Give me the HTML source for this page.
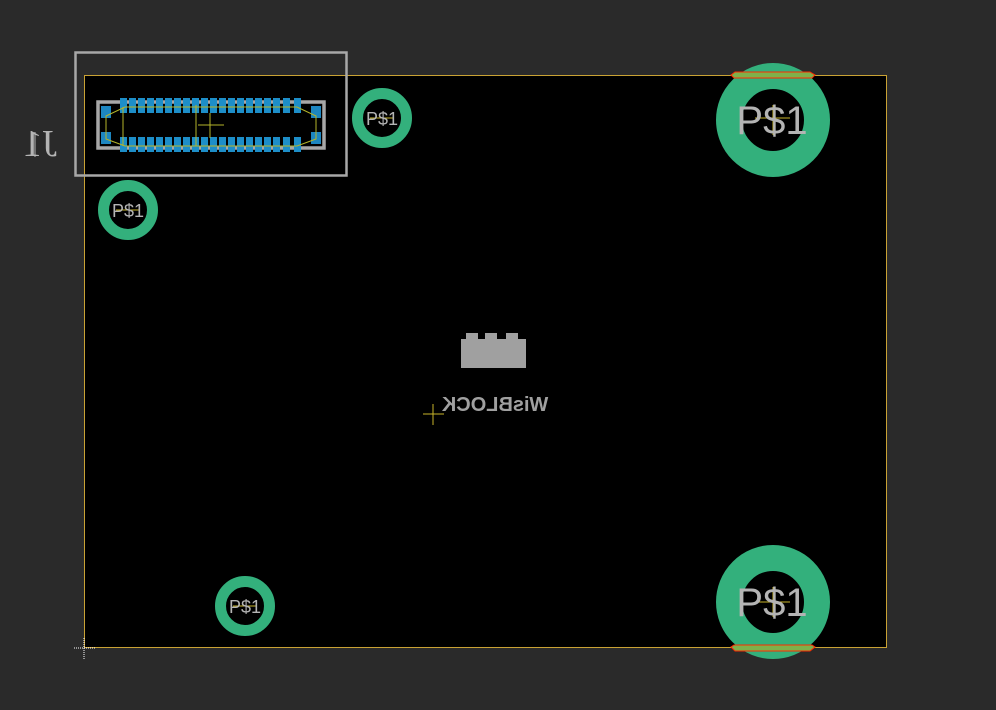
<!DOCTYPE html>
<html><head><meta charset="utf-8"><style>
html,body{margin:0;padding:0;background:#2a2a2a;width:996px;height:710px;overflow:hidden}
svg{display:block}
text{font-family:"Liberation Sans",sans-serif}
</style></head><body>
<svg width="996" height="710" viewBox="0 0 996 710" xmlns="http://www.w3.org/2000/svg">
<rect width="996" height="710" fill="#2a2a2a"/>
<rect x="84.5" y="75.5" width="802" height="572" fill="#000" stroke="#c9a234" stroke-width="1"/>
<line x1="74" y1="648" x2="96" y2="648" stroke="#fff" stroke-width="1" stroke-dasharray="1,1"/>
<line x1="84" y1="638" x2="84" y2="660" stroke="#fff" stroke-width="1" stroke-dasharray="1,1"/>

<g fill="none" stroke="#33b07c">
<circle cx="382" cy="118" r="24.5" stroke-width="11"/>
<circle cx="128" cy="210" r="24.5" stroke-width="11"/>
<circle cx="245" cy="606" r="24.5" stroke-width="11"/>
<circle cx="773" cy="120" r="44" stroke-width="26"/>
<circle cx="773" cy="602" r="44" stroke-width="26"/>
</g>
<g stroke="#ff2a00" stroke-width="1" fill="#7fb04a">
<polygon points="731,75 735,72 810,72 815,75 812,78 734,78"/>
<polygon points="731,647 735,651 810,651 815,647 812,645 734,645"/>
</g>
<g stroke="#c8b52a" stroke-width="1">
<line x1="755" y1="118" x2="790" y2="118"/><line x1="773" y1="105" x2="773" y2="135"/>
<line x1="755" y1="602" x2="790" y2="602"/><line x1="773" y1="587" x2="773" y2="617"/>
<line x1="370" y1="118" x2="394" y2="118"/>
<line x1="116" y1="210" x2="140" y2="210"/>
<line x1="233" y1="606" x2="257" y2="606"/>
<line x1="423" y1="414" x2="444" y2="414"/><line x1="433" y1="404" x2="433" y2="425"/>
</g>
<g fill="#b4b4b4" font-size="18" text-anchor="middle">
<text x="382" y="125">P$1</text>
<text x="128" y="217">P$1</text>
<text x="245" y="613">P$1</text>
</g>
<g fill="#b4b4b4" font-size="40" text-anchor="middle">
<text x="772" y="134">P$1</text>
<text x="772" y="616">P$1</text>
</g>

<rect x="75.5" y="52.5" width="271" height="123" fill="none" stroke="#a8a8a8" stroke-width="2.5"/>
<rect x="98" y="102" width="226" height="46" fill="none" stroke="#a8a8a8" stroke-width="3.5"/>
<g fill="#1d86c0">
<rect x="101" y="106" width="10" height="12"/><rect x="101" y="132" width="10" height="12"/>
<rect x="311" y="106" width="10" height="12"/><rect x="311" y="132" width="10" height="12"/>
</g>
<g fill="#1d8ec8">
<rect x="120" y="98" width="7" height="15"/><rect x="129" y="98" width="7" height="15"/><rect x="138" y="98" width="7" height="15"/><rect x="147" y="98" width="7" height="15"/><rect x="156" y="98" width="7" height="15"/><rect x="165" y="98" width="7" height="15"/><rect x="174" y="98" width="7" height="15"/><rect x="183" y="98" width="7" height="15"/><rect x="192" y="98" width="7" height="15"/><rect x="201" y="98" width="7" height="15"/><rect x="210" y="98" width="7" height="15"/><rect x="219" y="98" width="7" height="15"/><rect x="228" y="98" width="7" height="15"/><rect x="237" y="98" width="7" height="15"/><rect x="246" y="98" width="7" height="15"/><rect x="255" y="98" width="7" height="15"/><rect x="264" y="98" width="7" height="15"/><rect x="273" y="98" width="7" height="15"/><rect x="283" y="98" width="7" height="15"/><rect x="294" y="98" width="7" height="15"/>
<rect x="120" y="137" width="7" height="15"/><rect x="129" y="137" width="7" height="15"/><rect x="138" y="137" width="7" height="15"/><rect x="147" y="137" width="7" height="15"/><rect x="156" y="137" width="7" height="15"/><rect x="165" y="137" width="7" height="15"/><rect x="174" y="137" width="7" height="15"/><rect x="183" y="137" width="7" height="15"/><rect x="192" y="137" width="7" height="15"/><rect x="201" y="137" width="7" height="15"/><rect x="210" y="137" width="7" height="15"/><rect x="219" y="137" width="7" height="15"/><rect x="228" y="137" width="7" height="15"/><rect x="237" y="137" width="7" height="15"/><rect x="246" y="137" width="7" height="15"/><rect x="255" y="137" width="7" height="15"/><rect x="264" y="137" width="7" height="15"/><rect x="273" y="137" width="7" height="15"/><rect x="283" y="137" width="7" height="15"/><rect x="294" y="137" width="7" height="15"/>
</g>
<g fill="none" stroke="#b5b52a" stroke-width="1">
<polygon points="125,107 297,107 316,116 316,139 297,146 125,146 106,139 106,116"/>
<line x1="123" y1="107" x2="123" y2="146"/>
<line x1="196" y1="105" x2="196" y2="146"/>
<line x1="198" y1="125" x2="224" y2="125"/><line x1="210" y1="113" x2="210" y2="138"/>
</g>
<text x="0" y="0" font-size="38" fill="#b4b4b4" style="font-family:'Liberation Serif',serif" transform="translate(57,156) scale(-1,1)">J1</text>
<line x1="35" y1="132" x2="35" y2="157" stroke="#b4b4b4" stroke-width="1"/>

<g fill="#a0a0a0">
<rect x="461" y="339" width="65" height="29"/>
<rect x="466" y="333" width="12" height="7"/>
<rect x="485" y="333" width="12" height="7"/>
<rect x="506" y="333" width="12" height="7"/>
</g>
<text x="0" y="0" font-size="20" font-weight="bold" fill="#a0a0a0" text-anchor="middle" transform="translate(495,411) scale(-1,1)">WisBLOCK</text>
</svg>
</body></html>
